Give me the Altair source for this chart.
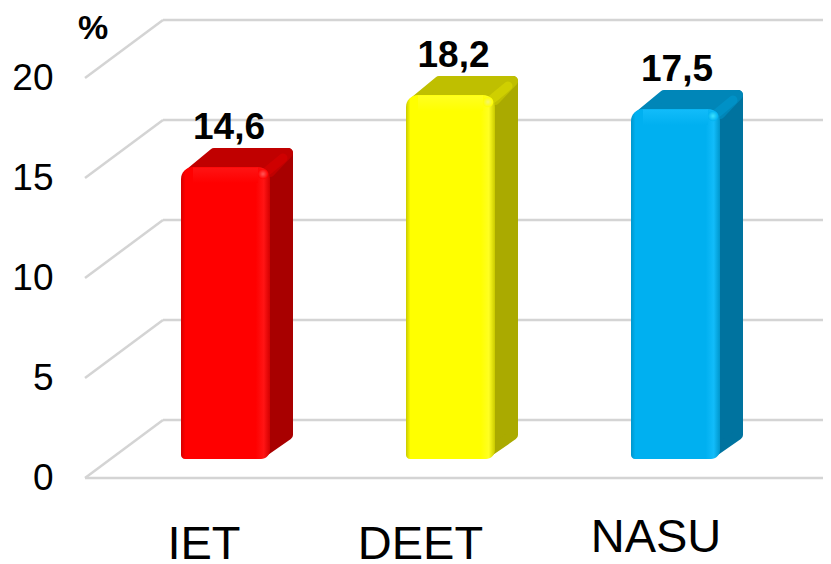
import altair as alt
import pandas as pd

CATEGORIES = ["IET", "DEET", "NASU"]
VALUES = [14.6, 18.2, 17.5]
VALUE_TEXT = ["14,6", "18,2", "17,5"]
POSITIONS = [0, 1, 2]
FRONT = ["#ff0000", "#ffff00", "#00b0f0"]
EDGE = ["#d40000", "#caca00", "#0096cc"]
GLOW = ["#ff1414", "#ffff22", "#12bcfa"]
SPOT = ["#ff5a5a", "#f4f470", "#3fe4ff"]
TOP = ["#c00000", "#bfbf00", "#0086b8"]
RIDGE = ["#d00000", "#d0d000", "#0092c8"]
SIDE = ["#a80000", "#aaaa00", "#00739f"]
GRID_VALUES = [0, 5, 10, 15, 20]

PX_X = 225.0
PX_Y = 20.0
XMIN, XMAX = (85 - 225.5) / PX_X, (823 - 225.5) / PX_X
YMIN, YMAX = (478 - 564) / PX_Y, (478 - 8) / PX_Y
HALF = 44.5 / PX_X
BASE = 19 / PX_Y
DX = 23 / PX_X
DY = 19 / PX_Y
WALL_X = 78 / PX_X
WALL_Y = 58 / PX_Y
R = 5.0

xs = alt.Scale(domain=[XMIN, XMAX], nice=False, zero=False)
ys = alt.Scale(domain=[YMIN, YMAX], nice=False, zero=False)
Y_AXIS = alt.Axis(
    values=GRID_VALUES, grid=False, domain=False, ticks=False, title=None,
    labelFont="Liberation Sans", labelFontSize=37, labelColor="#000000",
    labelPadding=32, labelBaseline="middle", labelOverlap=False,
)
X = lambda f="x": alt.X(f"{f}:Q", scale=xs, axis=None)
Y = lambda f="y": alt.Y(f"{f}:Q", scale=ys, axis=Y_AXIS)
GRID = "#d4d4d4"

# floor and wall lines
oblique = pd.DataFrame(
    [{"g": g, "x": XMIN, "y": g} for g in GRID_VALUES]
    + [{"g": g, "x": XMIN + WALL_X, "y": g + WALL_Y} for g in GRID_VALUES]
)
oblique_layer = alt.Chart(oblique).mark_line(color=GRID, strokeWidth=2.5).encode(
    x=X(), y=Y(), detail="g:N"
)
back = pd.DataFrame({"x": [XMIN + WALL_X] * 5, "x2": [XMAX] * 5, "y": [g + WALL_Y for g in GRID_VALUES]})
back_layer = alt.Chart(back).mark_rule(color=GRID, strokeWidth=2.5).encode(x=X(), x2="x2:Q", y=Y())
floor = pd.DataFrame({"x": [XMIN], "x2": [XMAX], "y": [0]})
floor_layer = alt.Chart(floor).mark_rule(color=GRID, strokeWidth=2.5).encode(x=X(), x2="x2:Q", y=Y())

layers = [back_layer, oblique_layer, floor_layer]

for i, pos in enumerate(POSITIONS):
    v = VALUES[i]
    left, right = pos - HALF, pos + HALF
    rx, ry = R / PX_X, R / PX_Y

    side = pd.DataFrame({
        "x": [right - rx, right + DX - rx],
        "y": [BASE + 0.15 + ry, BASE + DY + ry],
        "y2": [BASE + v - ry, BASE + v + DY - ry],
    })
    layers.append(
        alt.Chart(side).mark_area(color=SIDE[i], stroke=SIDE[i], strokeWidth=2 * R, strokeJoin="round")
        .encode(x=X(), y=Y(), y2="y2:Q")
    )
    top = pd.DataFrame({
        "y": [BASE + v - ry, BASE + v + DY - ry],
        "x": [left + 2 * rx, left + DX + 2 * rx],
        "x2": [right, right + DX - rx],
    })
    layers.append(
        alt.Chart(top).mark_area(orient="horizontal", color=TOP[i], stroke=TOP[i], strokeWidth=2 * R, strokeJoin="round")
        .encode(y=Y(), x=X(), x2="x2:Q")
    )
    ridge = pd.DataFrame({
        "x": [right - 2 * rx, right + DX - 2 * rx],
        "y": [BASE + v - 2 * ry, BASE + v + DY - 2 * ry],
    })
    layers.append(
        alt.Chart(ridge).mark_line(color=RIDGE[i], strokeWidth=9, strokeCap="round", opacity=0.9)
        .encode(x=X(), y=Y())
    )
    front = pd.DataFrame({"x": [left], "x2": [right], "y": [BASE], "y2": [BASE + v]})
    fill = alt.Gradient(
        gradient="linear", x1=0, x2=1, y1=0, y2=0,
        stops=[
            alt.GradientStop(color=EDGE[i], offset=0),
            alt.GradientStop(color=FRONT[i], offset=0.05),
            alt.GradientStop(color=FRONT[i], offset=0.84),
            alt.GradientStop(color=GLOW[i], offset=0.93),
            alt.GradientStop(color=EDGE[i], offset=1),
        ],
    )
    layers.append(
        alt.Chart(front).mark_bar(
            color=fill, cornerRadiusTopLeft=12, cornerRadiusTopRight=12,
            cornerRadiusBottomLeft=4, cornerRadiusBottomRight=9,
        ).encode(x=X(), x2="x2:Q", y=Y(), y2="y2:Q")
    )
    bevel = pd.DataFrame({"x": [left + 2.4 * rx], "x2": [right - 2.4 * rx], "y": [BASE + v - 0.8], "y2": [BASE + v - 0.02]})
    bevel_fill = alt.Gradient(
        gradient="linear", x1=0, x2=0, y1=0, y2=1,
        stops=[
            alt.GradientStop(color=GLOW[i], offset=0),
            alt.GradientStop(color=FRONT[i], offset=1),
        ],
    )
    layers.append(
        alt.Chart(bevel).mark_bar(color=bevel_fill).encode(x=X(), x2="x2:Q", y=Y(), y2="y2:Q")
    )
    spot = pd.DataFrame({"x": [right - 7 / PX_X], "y": [BASE + v - 7 / PX_Y]})
    spot_fill = alt.Gradient(
        gradient="radial",
        stops=[
            alt.GradientStop(color=SPOT[i], offset=0),
            alt.GradientStop(color=FRONT[i], offset=1),
        ],
    )
    layers.append(
        alt.Chart(spot).mark_circle(color=spot_fill, opacity=1, size=110).encode(x=X(), y=Y())
    )

labels = pd.DataFrame({
    "x": [p + d / PX_X for p, d in zip(POSITIONS, [3.5, 3, 1.5])],
    "y": [BASE + v for v in VALUES],
    "t": VALUE_TEXT,
})
layers.append(
    alt.Chart(labels).mark_text(
        font="Liberation Sans", fontSize=37, fontWeight="bold", color="#000000",
        align="center", baseline="alphabetic", dy=-28,
    ).encode(x=X(), y=Y(), text="t:N")
)
cats = pd.DataFrame({
    "x": [p + d / PX_X for p, d in zip(POSITIONS, [-21.5, -30, -19.5])],
    "y": [-4.05, -4.05, -3.7],
    "t": CATEGORIES,
})
layers.append(
    alt.Chart(cats).mark_text(
        font="Liberation Sans", fontSize=47, color="#000000", align="center", baseline="alphabetic",
    ).encode(x=X(), y=Y(), text="t:N")
)
pct = pd.DataFrame({"x": [(93 - 225.5) / PX_X], "y": [(478 - 39) / PX_Y], "t": ["%"]})
layers.append(
    alt.Chart(pct).mark_text(
        font="Liberation Sans", fontSize=34, fontWeight="bold", color="#000000", align="center", baseline="alphabetic",
    ).encode(x=X(), y=Y(), text="t:N")
)

chart = (
    alt.layer(*layers)
    .properties(
        width=738, height=556,
        autosize=alt.AutoSizeParams(type="none"),
        padding={"left": 77, "top": 0, "right": 0, "bottom": 0},
    )
    .configure_view(stroke=None, clip=False)
)
chart.save("out.html", embed_options={"renderer": "svg", "actions": False})
